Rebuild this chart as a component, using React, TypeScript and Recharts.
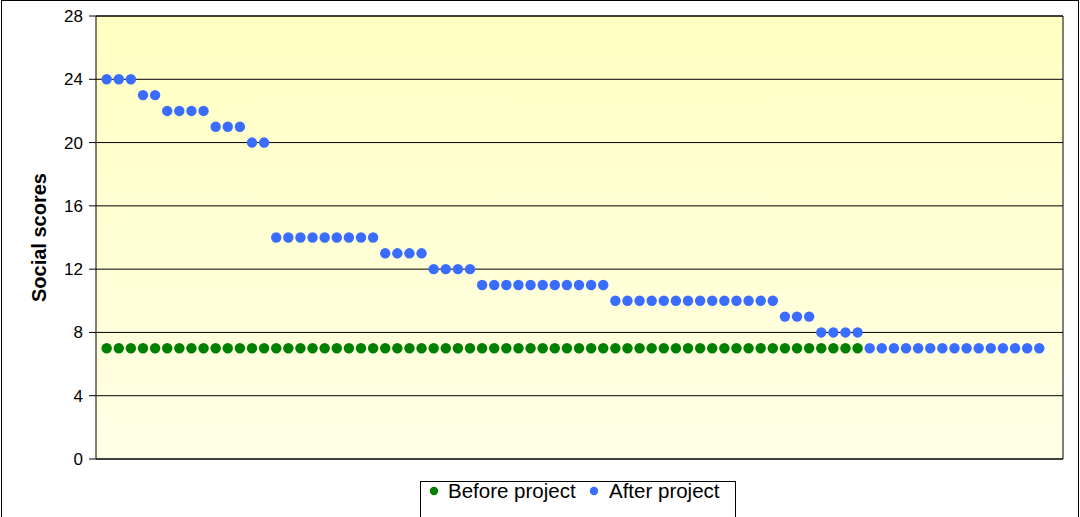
import React from 'react';
import { ScatterChart, Scatter, XAxis, YAxis, CartesianGrid, ReferenceLine } from 'recharts';

// Social scores per respondent (left to right)
const beforeScores = [
    7, 7, 7, 7, 7, 7, 7, 7, 7, 7, 7, 7, 7, 7, 7, 7, 7, 7, 7, 7, 7,
    7, 7, 7, 7, 7, 7, 7, 7, 7, 7, 7, 7, 7, 7, 7, 7, 7, 7, 7, 7, 7,
    7, 7, 7, 7, 7, 7, 7, 7, 7, 7, 7, 7, 7, 7, 7, 7, 7, 7, 7, 7, 7,
];

const afterScores = [
    24, 24, 24, 23, 23, 22, 22, 22, 22, 21, 21, 21, 20, 20,
    14, 14, 14, 14, 14, 14, 14, 14, 14,
    13, 13, 13, 13,
    12, 12, 12, 12,
    11, 11, 11, 11, 11, 11, 11, 11, 11, 11, 11,
    10, 10, 10, 10, 10, 10, 10, 10, 10, 10, 10, 10, 10, 10,
    9, 9, 9,
    8, 8, 8, 8,
    7, 7, 7, 7, 7, 7, 7, 7, 7, 7, 7, 7, 7, 7, 7,
];

const seriesNames = ['Before project', 'After project'];
const yTicks = [0, 4, 8, 12, 16, 20, 24, 28];
const xDomain: [number, number] = [-0.88, 78.96];

const GREEN = '#008000';
const BLUE = '#3a6cff';
const FONT = 'Arial, "Liberation Sans", sans-serif';

const beforeData = beforeScores.map((v, i) => ({ x: i, y: v }));
const afterData = afterScores.map((v, i) => ({ x: i, y: v }));

const dot = (color: string) => (props: any) => (
    <circle cx={props.cx} cy={props.cy} r={5.2} fill={color} />
);

// boxed legend under the plot; its bottom edge runs off the page as in the original
const LegendBox = () => (
    <svg style={{ position: 'absolute', left: 420, top: 466 }} width={316} height={51}>
        <rect x={0.5} y={15.5} width={315} height={45} fill="#fff" stroke="#000" />
        <circle cx={14} cy={25} r={4.2} fill={GREEN} />
        <text x={28} y={32} fontFamily={FONT} fontSize={20.5} fill="#000">{seriesNames[0]}</text>
        <circle cx={174} cy={25} r={4.2} fill={BLUE} />
        <text x={189} y={32} fontFamily={FONT} fontSize={20.5} fill="#000">{seriesNames[1]}</text>
    </svg>
);

export default function App() {
    return (
        <div style={{ position: 'absolute', left: 0, top: 0, width: 1080, height: 517, overflow: 'hidden', background: '#fff' }}>
            <div style={{ position: 'absolute', left: 1, top: 0, width: 1076, height: 540, border: '1px solid #000' }} />
            <div style={{ position: 'absolute', left: 0, top: 0 }}>
                <ScatterChart width={1080} height={517} margin={{ top: 16, right: 17, bottom: 58, left: 0 }}>
                    <defs>
                        <linearGradient id="plotBg" x1="0" y1="0" x2="0" y2="1">
                            <stop offset="0%" stopColor="#ffffc2" />
                            <stop offset="100%" stopColor="#ffffe6" />
                        </linearGradient>
                    </defs>
                    <CartesianGrid vertical={false} stroke="#000" fill="url(#plotBg)" fillOpacity={1} />
                    <XAxis type="number" dataKey="x" domain={xDomain} hide />
                    <YAxis
                        type="number"
                        dataKey="y"
                        domain={[0, 28]}
                        ticks={yTicks}
                        width={96}
                        stroke="#000"
                        tickSize={7}
                        tickMargin={6}
                        tick={{ fill: '#000', fontSize: 17, fontFamily: FONT }}
                        label={{
                            value: 'Social scores',
                            angle: -90,
                            position: 'insideLeft',
                            dx: 34,
                            style: { textAnchor: 'middle', fontFamily: FONT, fontSize: 20, fontWeight: 'bold', fill: '#000' },
                        }}
                    />
                    <ReferenceLine y={28} stroke="#000" />
                    <ReferenceLine y={0} stroke="#000" />
                    <ReferenceLine x={xDomain[1]} stroke="#000" />
                    <Scatter name={seriesNames[0]} data={beforeData} fill={GREEN} shape={dot(GREEN)} isAnimationActive={false} />
                    <Scatter name={seriesNames[1]} data={afterData} fill={BLUE} shape={dot(BLUE)} isAnimationActive={false} />
                </ScatterChart>
            </div>
            <LegendBox />
        </div>
    );
}
